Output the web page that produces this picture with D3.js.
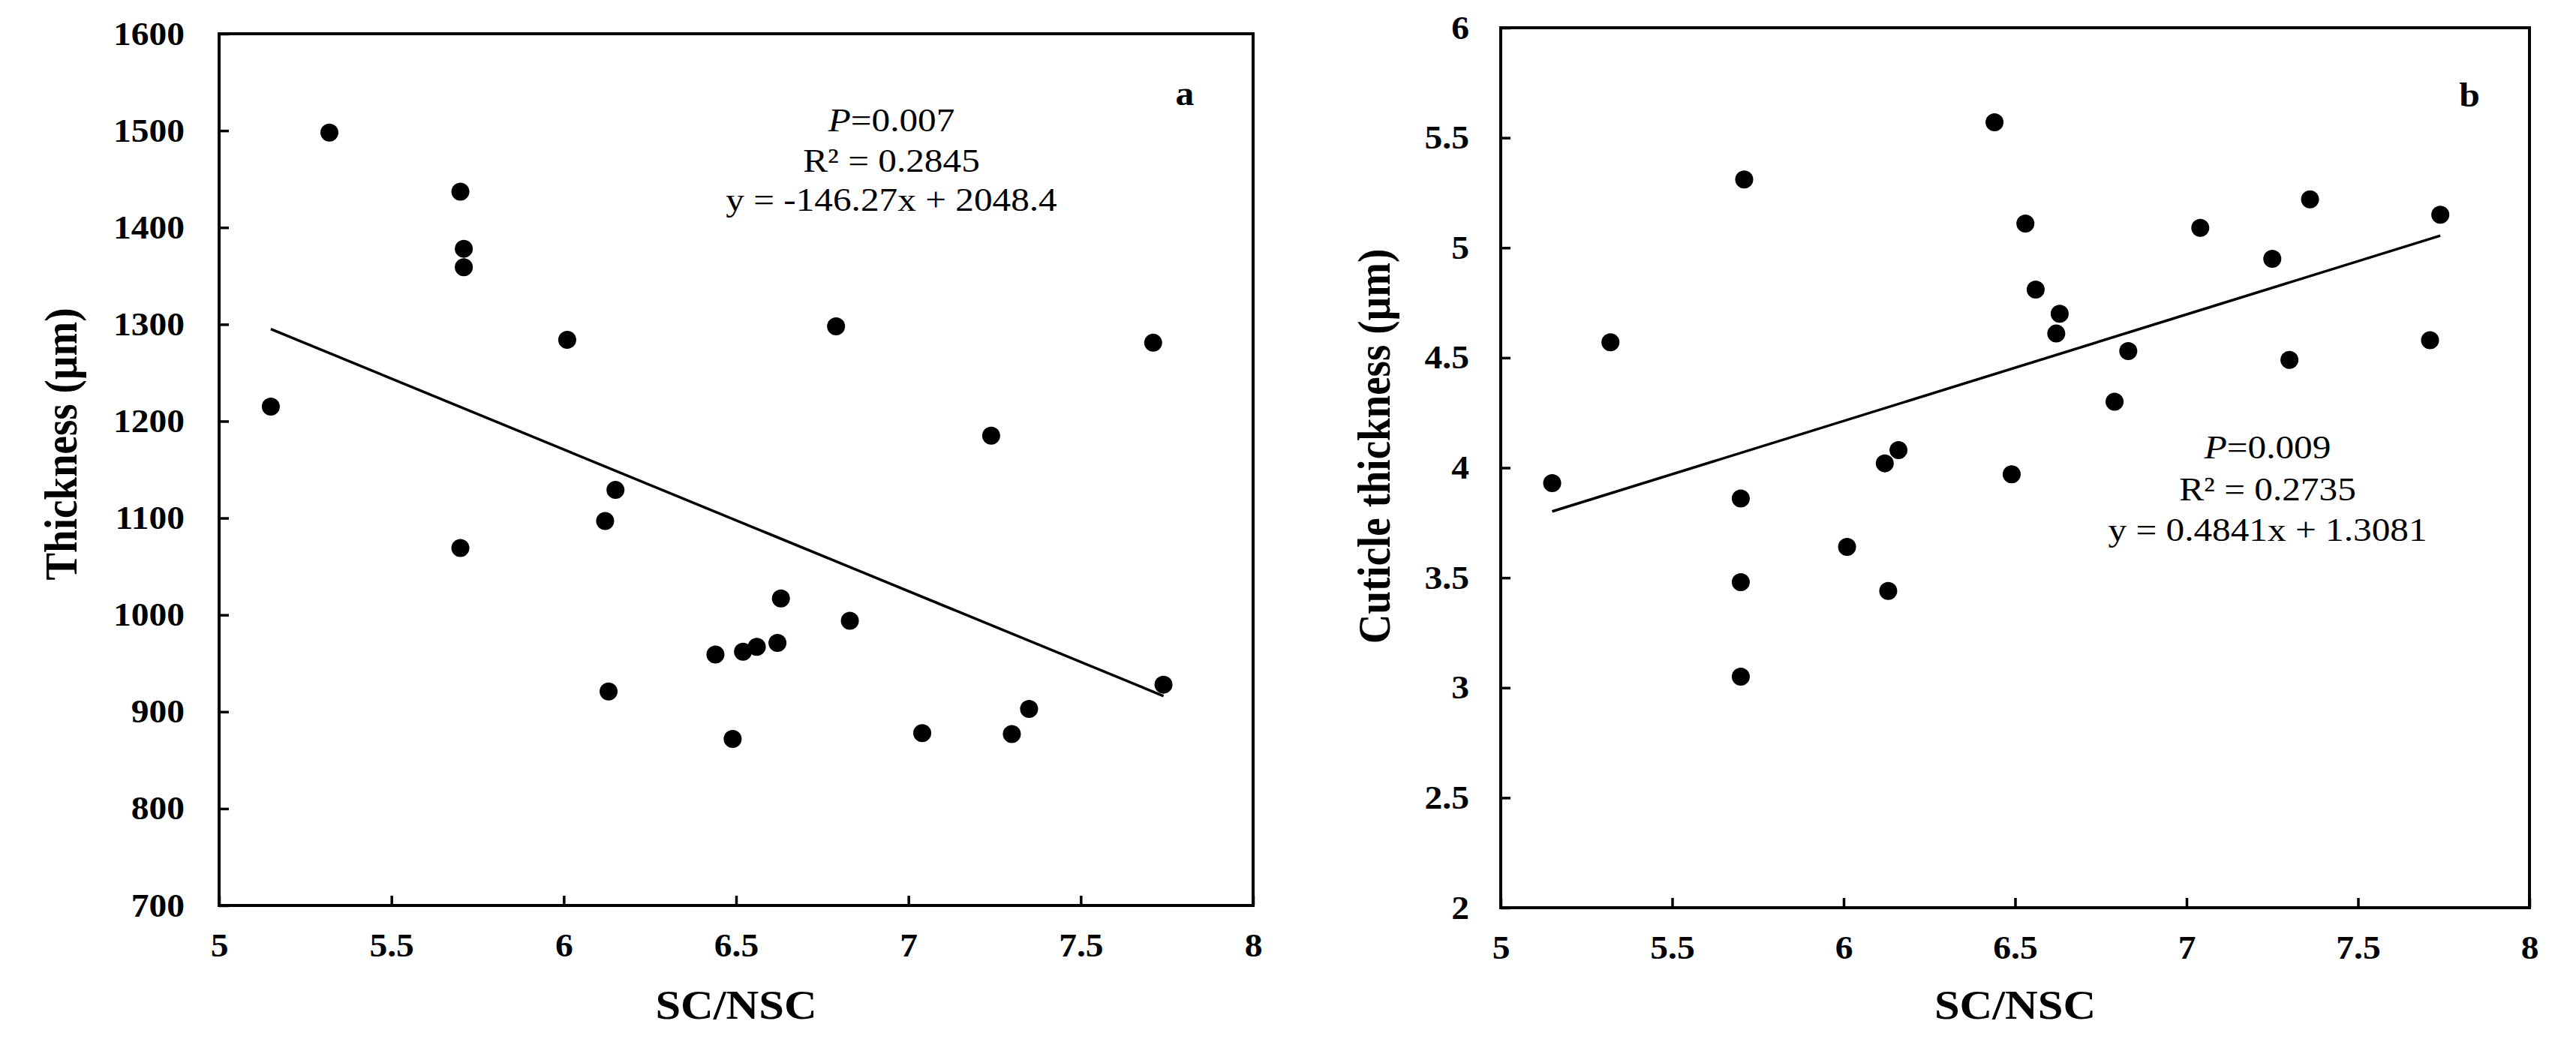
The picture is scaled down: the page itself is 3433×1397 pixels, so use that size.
<!DOCTYPE html>
<html><head><meta charset="utf-8">
<script src="https://cdn.jsdelivr.net/npm/d3@7"></script>
<style>body{margin:0;background:#fff}</style>
</head><body>
<svg id="chart" width="3433" height="1397"></svg>
<script>
// ---------- data ----------
const xTickValues = [5, 5.5, 6, 6.5, 7, 7.5, 8];
const yTickValuesA = [700, 800, 900, 1000, 1100, 1200, 1300, 1400, 1500, 1600];
const yTickValuesB = [2, 2.5, 3, 3.5, 4, 4.5, 5, 5.5, 6];

const scA = [5.15, 5.32, 5.70, 5.71, 5.71, 5.70, 6.01, 6.12, 6.15, 6.13, 6.44, 6.49,
             6.52, 6.56, 6.62, 6.63, 6.79, 6.83, 7.04, 7.24, 7.30, 7.35, 7.71, 7.74];
const thicknessA = [1215, 1498, 1437, 1378, 1359, 1069, 1284, 1097, 1129, 921, 959, 872,
                    962, 967, 971, 1017, 1298, 994, 878, 1185, 877, 903, 1281, 928];

const scB = [5.15, 5.32, 5.71, 5.70, 5.70, 5.70, 6.01, 6.12, 6.16, 6.13, 6.44, 6.49,
             6.53, 6.56, 6.63, 6.62, 6.79, 6.83, 7.04, 7.25, 7.30, 7.36, 7.71, 7.74];
const cuticleB = [3.93, 4.57, 5.31, 3.86, 3.48, 3.05, 3.64, 4.02, 4.08, 3.44, 5.57, 3.97,
                  5.11, 4.81, 4.70, 4.61, 4.30, 4.53, 5.09, 4.95, 4.49, 5.22, 4.58, 5.15];

const fitA = [-146.27, 2048.4];   // slope, intercept
const fitB = [0.4841, 1.3081];
const statsA = ["0.007", "R² = 0.2845", "y = -146.27x + 2048.4"];
const statsB = ["0.009", "R² = 0.2735", "y = 0.4841x + 1.3081"];
const xTitle = "SC/NSC";
const yTitles = ["Thickness (µm)", "Cuticle thickness (µm)"];
const panelLabels = ["a", "b"];

// ---------- drawing ----------
const FONT = "'Liberation Serif', 'Times New Roman', serif";
const S = 1.08; // horizontal stretch of the original figure
const svg = d3.select("#chart");
const fmt = d3.format("~g");

function stext(g, x, y, str, size, weight, anchor, sx) {
  return g.append("text")
    .attr("transform", `translate(${x},${y}) scale(${sx || S},1)`)
    .attr("font-family", FONT).attr("font-size", size)
    .attr("font-weight", weight).attr("text-anchor", anchor)
    .attr("fill", "#000").text(str);
}

function panel(cfg) {
  const g = svg.append("g");
  const x = d3.scaleLinear().domain([5, 8]).range([cfg.left, cfg.right]);
  const y = d3.scaleLinear().domain(cfg.yDomain).range([cfg.bottom, cfg.top]);

  // axes
  const ya = g.append("g").attr("transform", `translate(${cfg.left},0)`)
    .call(d3.axisLeft(y).tickValues(cfg.yTicks).tickSize(-13).tickPadding(0).tickFormat(fmt));
  const xa = g.append("g").attr("transform", `translate(0,${cfg.bottom})`)
    .call(d3.axisBottom(x).tickValues(xTickValues).tickSize(-13).tickPadding(37).tickFormat(fmt));
  [ya, xa].forEach(a => {
    a.attr("font-family", FONT).attr("font-size", 44);
    a.select(".domain").remove();
    a.selectAll(".tick line").attr("stroke", "#000").attr("stroke-width", 3.5);
    a.selectAll(".tick text").attr("font-weight", "bold").attr("fill", "#000");
  });
  ya.selectAll(".tick text").attr("x", null)
    .attr("transform", `translate(${-cfg.labelGap},0) scale(${S},1)`);
  xa.selectAll(".tick text").attr("transform", `scale(${S},1)`);

  // frame
  g.append("rect").attr("x", cfg.left).attr("y", cfg.top)
    .attr("width", cfg.right - cfg.left).attr("height", cfg.bottom - cfg.top)
    .attr("fill", "none").attr("stroke", "#000").attr("stroke-width", 4);

  // trend line
  const ext = d3.extent(cfg.xs);
  const lineData = ext.map(v => [v, cfg.fit[0] * v + cfg.fit[1]]);
  g.append("path").datum(lineData)
    .attr("d", d3.line().x(d => x(d[0])).y(d => y(d[1])))
    .attr("fill", "none").attr("stroke", "#000").attr("stroke-width", 3.5);

  // points
  g.selectAll("circle.pt").data(cfg.xs.map((v, i) => [v, cfg.ys[i]])).join("circle")
    .attr("class", "pt").attr("cx", d => x(d[0])).attr("cy", d => y(d[1]))
    .attr("r", 12).attr("fill", "#000");

  // titles
  stext(g, (cfg.left + cfg.right) / 2, 1358, xTitle, 55, "bold", "middle", 1.1);
  g.append("text")
    .attr("transform", `translate(${cfg.yTitleX},${cfg.yTitleY}) scale(1.1,1) rotate(-90)`)
    .attr("font-family", FONT).attr("font-size", 55).attr("font-weight", "bold")
    .attr("text-anchor", "middle").attr("fill", "#000").text(cfg.yTitle);

  // panel label
  stext(g, cfg.labelX, cfg.labelY, cfg.label, 46, "bold", "middle");

  // stats annotation
  const t0 = stext(g, cfg.statX, cfg.statY[0], "", 44, "normal", "middle", 1.12);
  t0.append("tspan").attr("font-style", "italic").text("P");
  t0.append("tspan").text("=" + cfg.stats[0]);
  stext(g, cfg.statX, cfg.statY[1], cfg.stats[1], 44, "normal", "middle", 1.12);
  stext(g, cfg.statX, cfg.statY[2], cfg.stats[2], 44, "normal", "middle", 1.12);
}

panel({left: 292, right: 1670, top: 45, bottom: 1207, yDomain: [700, 1600],
       yTicks: yTickValuesA, xs: scA, ys: thicknessA, fit: fitA, stats: statsA,
       statX: 1188, statY: [175, 229, 281], label: panelLabels[0], labelX: 1579, labelY: 140,
       yTitle: yTitles[0], yTitleX: 102, yTitleY: 592, labelGap: 46});

panel({left: 2000, right: 3371, top: 37, bottom: 1210, yDomain: [2, 6],
       yTicks: yTickValuesB, xs: scB, ys: cuticleB, fit: fitB, stats: statsB,
       statX: 3022, statY: [611, 667, 721], label: panelLabels[1], labelX: 3291, labelY: 142,
       yTitle: yTitles[1], yTitleX: 1852, yTitleY: 595, labelGap: 42});
</script>
</body></html>
